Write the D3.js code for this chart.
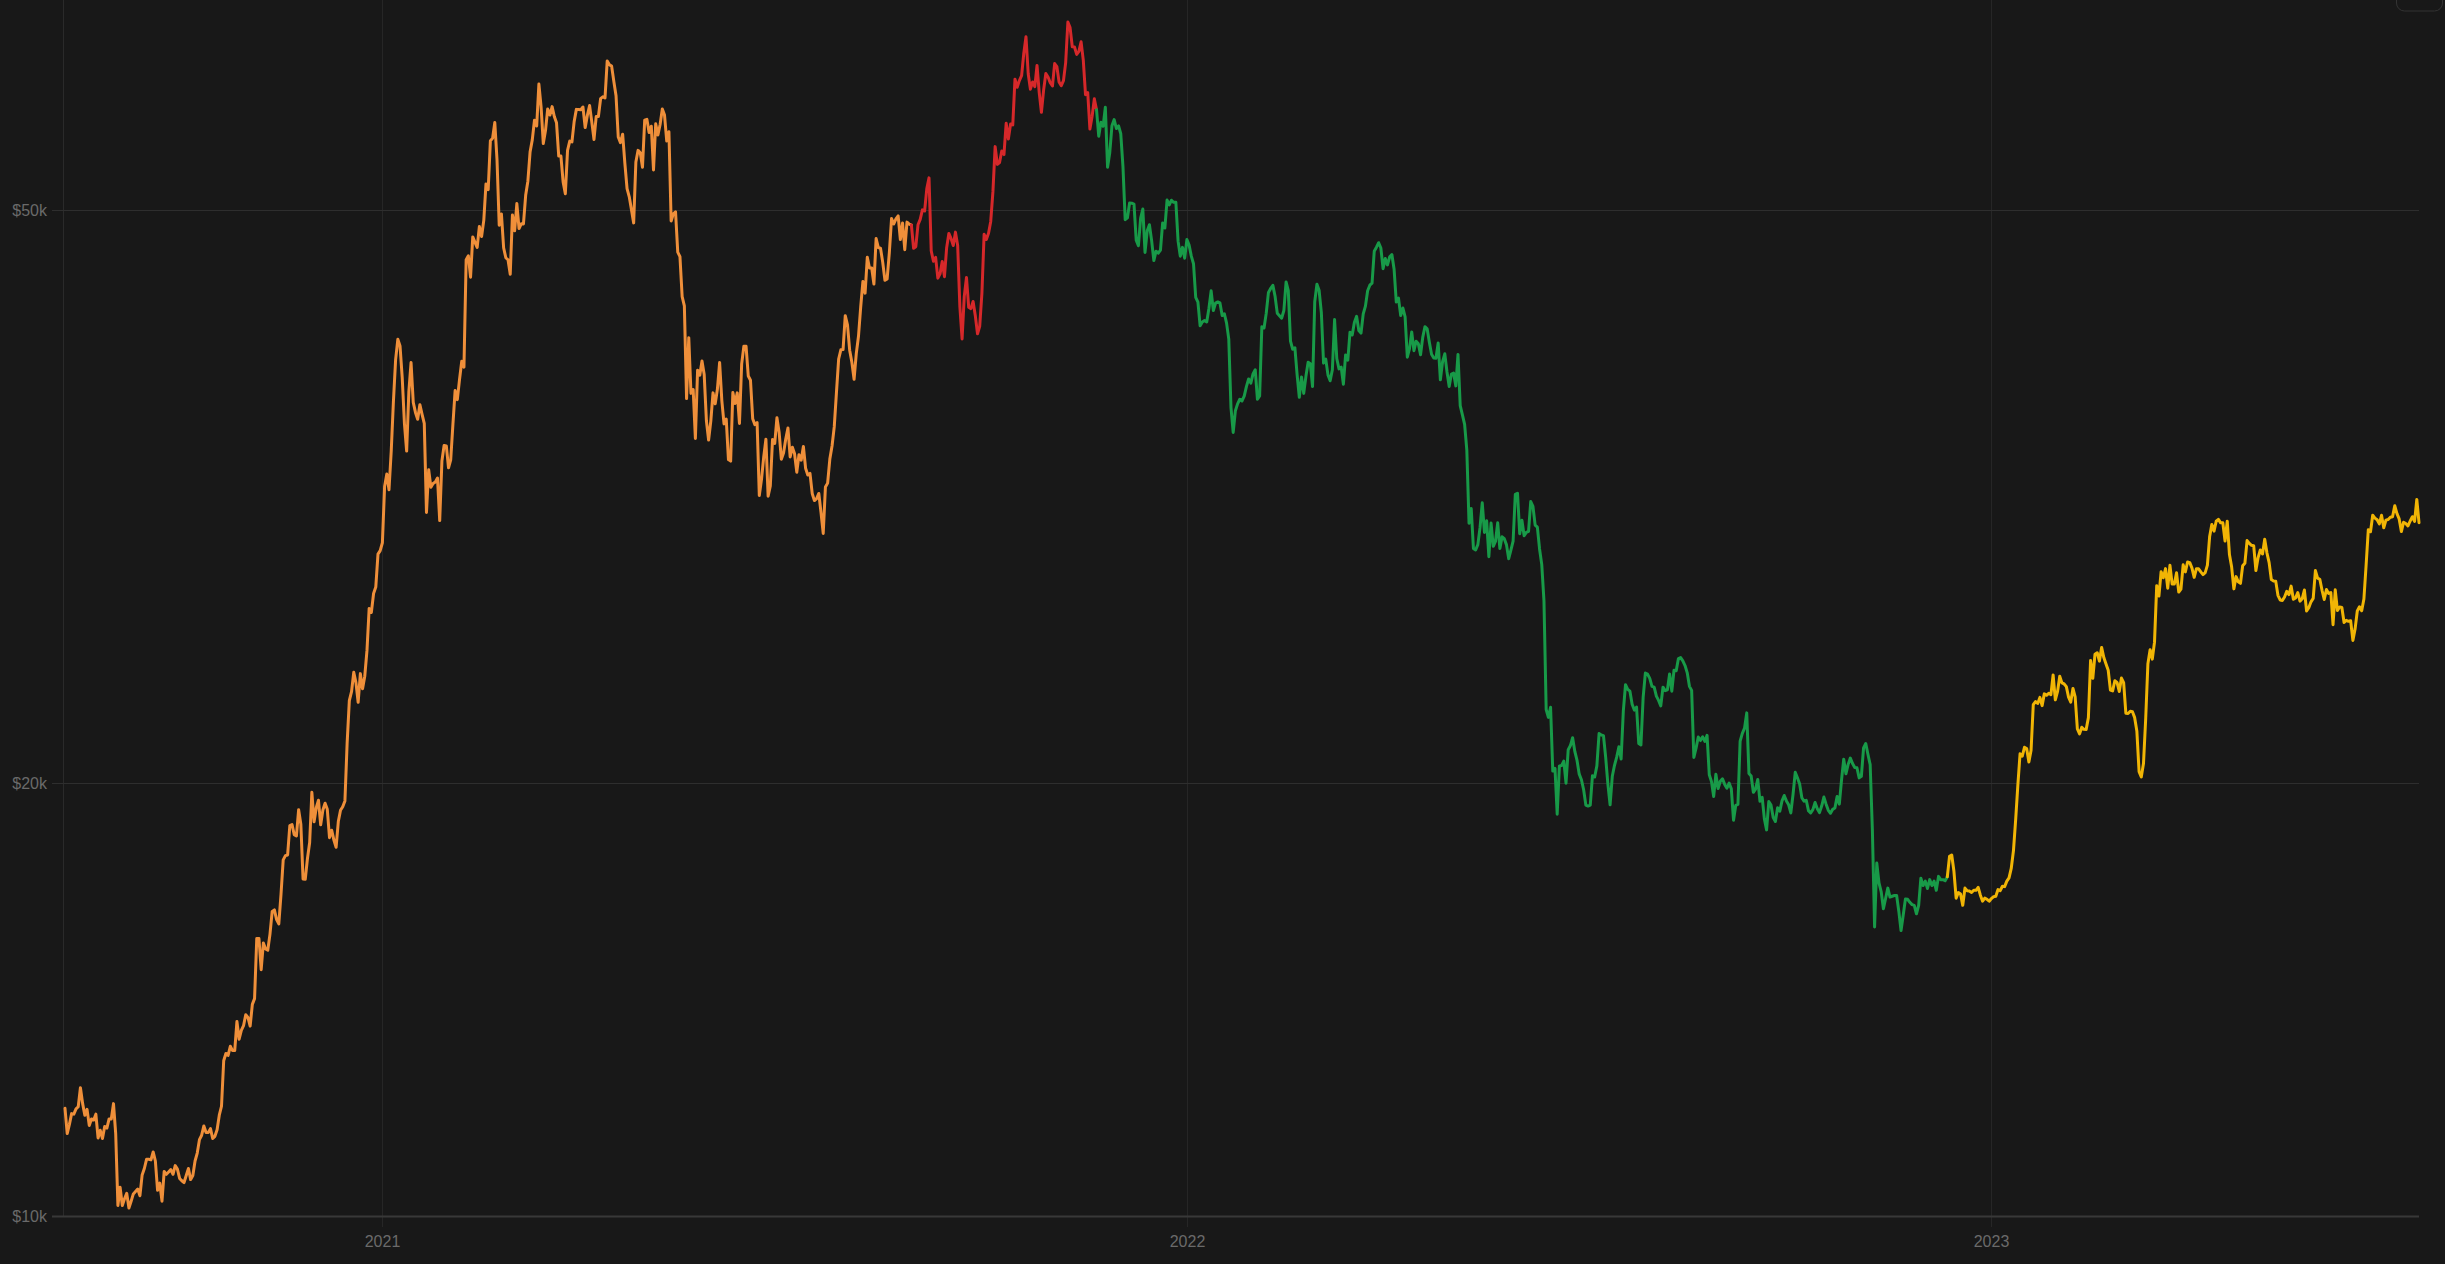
<!DOCTYPE html>
<html>
<head>
<meta charset="utf-8">
<script src="https://cdn.jsdelivr.net/npm/d3@7"></script>
<style>
html, body { margin: 0; padding: 0; background: #181818; overflow: hidden; }
svg { display: block; }
</style>
</head>
<body>
<svg id="chart" width="2445" height="1264"></svg>
<script>
// ---------------- DATA (daily close, thousands of USD) ----------------
// 2020: months Aug (from the 10th) .. Dec
const closes2020 = [
  [11.88,11.41,11.58,11.78,11.77,11.87,11.91,12.28,11.97,11.75,11.86,11.56,11.68,11.66,11.77,11.33,11.47,11.32,11.54,11.51,11.68,11.68],
  [11.97,11.41,10.17,10.47,10.17,10.28,10.37,10.13,10.24,10.36,10.40,10.44,10.33,10.68,10.79,10.95,10.95,10.94,11.08,10.92,10.42,10.54,10.24,10.74,10.69,10.73,10.77,10.69,10.84,10.78],
  [10.62,10.58,10.55,10.67,10.79,10.60,10.67,10.92,11.06,11.30,11.38,11.55,11.43,11.43,11.50,11.32,11.36,11.48,11.75,11.92,12.82,12.97,12.93,13.12,13.03,13.03,13.65,13.27,13.46,13.56,13.80],
  [13.74,13.55,14.03,14.16,15.59,15.59,14.83,15.48,15.33,15.30,15.70,16.28,16.32,16.07,15.96,16.73,17.68,17.80,17.82,18.68,18.71,18.41,18.37,19.16,18.72,17.15,17.14,17.72,18.18,19.70],
  [18.79,19.22,19.45,18.70,19.15,19.36,19.17,18.32,18.54,18.25,18.04,18.80,19.14,19.25,19.43,21.31,22.81,23.14,23.87,23.48,22.75,23.82,23.25,23.72,24.71,26.44,26.27,27.08,27.36,28.84,29.00]
];
const closes2021 = [
  [29.37,32.13,32.78,31.97,33.99,36.82,39.37,40.67,40.24,38.24,35.54,34.01,37.39,39.19,36.77,36.18,35.79,36.63,36.07,35.55,30.83,33.01,32.10,32.29,32.37,32.57,30.43,33.47,34.32,34.29,33.11],
  [33.54,35.51,37.47,36.93,38.14,39.27,38.90,46.20,46.48,44.92,47.91,47.50,47.11,48.72,47.94,49.20,52.15,51.68,55.89,56.10,57.54,54.21,48.82,49.71,47.09,46.34,46.19,45.14],
  [49.63,48.38,50.54,48.56,48.93,48.92,51.21,52.38,54.88,55.96,57.75,57.22,61.19,59.00,55.63,56.80,58.80,58.23,59.02,58.09,57.51,54.53,54.53,52.31,51.34,55.03,55.85,55.78,57.62,58.76,58.74],
  [58.72,58.98,57.07,58.21,59.12,57.60,56.00,58.09,58.09,59.77,59.96,59.84,63.50,63.11,62.97,61.45,60.06,56.22,55.72,56.47,53.91,51.76,51.09,50.05,49.00,54.02,55.03,54.82,53.56,57.75],
  [57.83,56.63,57.20,53.33,57.42,56.40,57.36,58.80,58.23,55.86,56.70,49.15,49.72,49.88,46.76,46.43,43.54,42.91,36.99,40.78,37.30,37.53,34.70,38.71,38.40,39.29,38.44,35.70,34.62,35.68,37.33],
  [36.68,37.56,39.19,36.87,35.52,35.80,33.55,33.47,37.35,36.70,37.33,35.55,39.10,40.22,40.22,38.35,38.09,35.82,35.48,35.60,31.68,32.51,33.68,34.66,31.64,32.16,34.64,34.43,35.87,35.04],
  [33.57,33.90,34.67,35.29,33.69,34.22,33.86,32.88,33.81,33.52,34.26,33.09,32.73,32.82,31.78,31.42,31.52,31.78,30.82,29.81,32.11,32.31,33.58,34.29,35.35,37.34,39.41,39.99,40.01,42.24,41.63],
  [39.97,39.20,38.15,39.75,40.87,42.82,44.61,43.79,46.37,45.59,45.59,44.43,47.79,47.10,47.05,46.00,44.70,44.80,46.72,49.34,48.91,49.32,49.55,47.71,48.99,46.94,49.06,48.90,48.83,47.05,47.17],
  [48.85,49.28,50.03,49.94,51.77,52.66,46.86,46.08,46.37,44.85,45.16,46.06,44.96,47.09,48.18,47.78,47.26,48.28,47.26,42.84,40.69,43.58,44.90,42.81,42.72,43.21,42.24,41.03,41.52,43.79],
  [48.12,47.71,48.20,49.11,51.51,55.36,53.81,53.97,54.97,54.66,57.47,56.04,57.40,57.32,61.67,60.88,61.53,62.01,64.28,66.00,62.21,60.69,61.39,60.93,63.04,60.36,58.48,60.62,62.23,61.89,61.32],
  [61.00,63.23,62.93,61.40,61.03,61.53,63.33,67.57,66.97,64.95,64.93,64.16,64.47,65.47,63.56,60.16,60.37,56.94,58.12,59.76,58.73,56.29,57.57,57.20,58.96,53.57,54.82,57.25,57.81,56.99],
  [57.23,56.51,53.60,49.25,49.39,50.59,50.57,50.50,47.67,47.24,49.36,50.10,46.74,48.38,48.86,47.63,46.13,46.83,46.68,46.91,49.00,48.60,50.82,50.43,50.81,50.64,50.64,47.59,46.46,47.12,46.31]
];
const closes2022 = [
  [47.72,47.29,46.46,45.90,43.50,43.17,41.56,41.82,41.92,41.82,42.74,43.95,42.59,43.10,43.18,43.11,42.25,42.37,41.74,40.68,36.46,35.04,36.28,36.68,36.95,36.85,37.14,37.71,38.17,37.92,38.48],
  [38.74,36.95,37.15,41.50,41.41,42.41,43.84,44.12,44.34,43.57,42.41,42.24,42.07,42.59,44.58,43.96,40.55,40.03,40.12,38.43,37.07,38.29,37.30,38.33,39.21,39.11,37.71,43.19],
  [44.42,43.97,42.45,39.15,39.40,38.42,38.06,38.74,41.98,39.44,38.79,38.90,37.85,39.67,39.34,41.14,40.95,41.80,42.19,41.25,41.08,42.36,42.89,43.96,44.35,44.50,46.82,47.13,47.47,47.07,45.54],
  [46.28,45.81,46.41,46.58,45.50,43.17,43.44,42.25,42.76,42.16,39.52,40.07,41.15,39.94,40.55,40.38,39.68,40.80,41.50,41.36,40.48,39.71,39.47,39.46,40.43,38.12,39.24,39.74,38.60,37.71],
  [38.47,38.53,37.75,39.70,36.58,36.04,35.50,34.06,30.30,31.02,29.10,29.03,29.28,30.10,31.31,29.86,30.42,28.72,30.31,29.20,29.43,30.32,29.10,29.65,29.56,29.27,28.63,29.02,29.45,31.73,31.79],
  [29.80,30.45,29.70,29.86,29.91,31.37,31.13,30.21,30.11,29.08,28.36,26.76,22.49,22.21,22.57,20.38,20.47,19.02,20.55,20.56,20.71,19.99,21.09,21.23,21.50,21.03,20.73,20.28,20.10,19.78],
  [19.30,19.27,19.30,20.23,20.19,20.55,21.64,21.59,21.57,20.83,19.96,19.31,20.21,20.57,20.84,21.19,20.78,22.43,23.40,23.23,23.16,22.68,22.47,22.58,21.30,21.25,22.93,23.84,23.80,23.64,23.34],
  [23.31,22.98,22.82,22.62,23.31,23.18,23.21,23.81,23.16,23.95,23.93,24.40,24.44,24.31,24.13,23.85,23.34,23.19,20.83,21.14,21.52,21.40,21.53,21.37,21.58,20.26,20.04,19.57,20.28,19.82,20.05],
  [20.13,19.95,19.83,19.99,19.81,18.84,19.29,19.32,21.38,21.65,21.83,22.37,20.30,20.22,19.70,19.80,20.11,19.42,19.54,18.88,18.55,19.41,19.30,18.92,18.80,19.22,19.11,19.43,19.60,19.43],
  [19.31,19.06,19.63,20.34,20.16,19.96,19.53,19.42,19.45,19.13,19.06,19.16,19.38,19.19,19.07,19.27,19.55,19.33,19.14,19.05,19.17,19.21,19.57,19.33,20.09,20.77,20.29,20.60,20.81,20.63,20.50],
  [20.49,20.16,20.21,21.15,21.30,20.93,20.59,18.54,15.88,17.59,17.04,16.80,16.35,16.62,16.90,16.66,16.68,16.70,16.70,16.28,15.79,16.19,16.61,16.60,16.52,16.46,16.44,16.22,16.44,17.17],
  [16.97,17.09,16.89,17.13,16.97,17.09,16.84,17.22,17.13,17.13,17.10,17.21,17.78,17.82,17.36,16.63,16.78,16.74,16.44,16.90,16.83,16.82,16.78,16.84,16.84,16.92,16.71,16.55,16.63,16.60,16.55]
];
// 2023: Jan .. Jul (to the 14th)
const closes2023 = [
  [16.62,16.67,16.68,16.86,16.83,16.95,16.94,17.09,17.18,17.44,17.94,18.85,19.93,20.95,20.87,21.17,21.13,20.68,21.07,22.67,22.78,22.71,22.93,22.63,23.06,23.01,23.08,23.03,23.77,22.84,23.14],
  [23.72,23.47,23.43,23.33,22.94,22.76,23.26,22.95,21.80,21.63,21.86,21.79,21.78,22.20,24.33,23.64,24.57,24.63,24.30,24.84,24.44,24.19,23.95,23.20,23.17,23.55,23.49,23.15],
  [23.65,23.48,22.36,22.35,22.43,22.41,22.20,21.72,20.36,20.19,20.63,22.16,24.20,24.75,24.38,25.05,27.42,26.97,28.04,27.77,28.18,27.31,28.33,27.49,27.49,27.99,27.14,27.27,28.35,28.03,28.48],
  [28.45,28.20,27.79,28.17,28.17,28.03,27.91,28.00,28.34,29.65,30.24,29.92,30.40,30.49,30.32,30.32,29.45,30.40,28.82,28.25,27.28,27.82,27.59,27.52,28.31,28.42,29.47,29.34,29.25,29.23],
  [28.09,28.68,29.03,28.85,29.53,28.90,28.45,27.69,27.63,27.62,27.00,26.80,26.78,26.93,27.17,27.03,27.40,26.83,26.89,27.12,26.75,26.85,27.23,26.33,26.47,26.72,26.87,28.09,27.75,27.70,27.22],
  [26.82,27.25,27.08,27.12,25.76,27.24,26.35,26.50,26.48,25.85,25.94,25.90,25.92,25.12,25.58,26.33,26.51,26.34,26.84,28.33,29.99,29.89,30.69,30.55,30.47,30.27,30.69,30.08,30.45,30.48],
  [30.59,30.62,31.16,30.77,30.51,29.90,30.35,30.29,30.17,30.41,30.62,30.39,31.48,30.33]
];
const yearStarts = [
  { year: 2020, firstMonth: 8, firstDay: 10, months: closes2020 },
  { year: 2021, firstMonth: 1, firstDay: 1, months: closes2021 },
  { year: 2022, firstMonth: 1, firstDay: 1, months: closes2022 },
  { year: 2023, firstMonth: 1, firstDay: 1, months: closes2023 }
];
// market phases (start dates)
const phaseStarts = ["2020-08-10", "2021-08-29", "2021-11-21", "2022-12-12"];
const yTickValues = [10000, 20000, 50000];
const yTickLabels = ["$10k", "$20k", "$50k"];
const xTickYears = [2021, 2022, 2023];

// ---------------- STYLE ----------------
const phaseColors = ["#ef8f3a", "#d6282a", "#189a48", "#f1b505"];
const W = 2445, H = 1264;
const plot = { left: 65, right: 2419, top: 0, bottom: 1216, axisX: 63, gridStart: 52 };
const textColor = "#6a6a6a";
const fontFamily = "'Liberation Sans', Arial, Helvetica, sans-serif";

// ---------------- BUILD ----------------
const points = [];
yearStarts.forEach(b => {
  b.months.forEach((vals, mi) => {
    vals.forEach((v, di) => {
      points.push({
        date: new Date(b.year, b.firstMonth - 1 + mi, (mi === 0 ? b.firstDay : 1) + di),
        value: v * 1000
      });
    });
  });
});

const parse = d3.timeParse("%Y-%m-%d");
const x = d3.scaleTime()
  .domain(d3.extent(points, d => d.date))
  .range([plot.left, plot.right]);
const y = d3.scaleLog()
  .domain([10000, 70000])
  .range([plot.bottom, plot.top]);

const svg = d3.select("#chart");
svg.append("rect").attr("width", W).attr("height", H).attr("fill", "#181818");

// vertical year grid lines + ticks
const gx = svg.append("g");
xTickYears.forEach(yr => {
  const xx = Math.round(x(new Date(yr, 0, 1))) + 0.5;
  gx.append("line")
    .attr("x1", xx).attr("x2", xx)
    .attr("y1", 0).attr("y2", plot.bottom + 11)
    .attr("stroke", "#262626").attr("stroke-width", 1);
  gx.append("text")
    .attr("x", xx).attr("y", 1247)
    .attr("text-anchor", "middle")
    .attr("fill", textColor)
    .attr("font-family", fontFamily)
    .attr("font-size", 16)
    .text(String(yr));
});

// left axis line
svg.append("line")
  .attr("x1", plot.axisX + 0.5).attr("x2", plot.axisX + 0.5)
  .attr("y1", 0).attr("y2", plot.bottom)
  .attr("stroke", "#2a2a2a").attr("stroke-width", 1);

// horizontal grid lines + labels
const gy = svg.append("g");
yTickValues.forEach((v, i) => {
  const yy = Math.round(y(v)) + 0.5;
  const isBase = i === 0;
  gy.append("line")
    .attr("x1", plot.gridStart).attr("x2", plot.right)
    .attr("y1", yy).attr("y2", yy)
    .attr("stroke", isBase ? "#383838" : "#2e2e2e")
    .attr("stroke-width", isBase ? 2 : 1);
  gy.append("text")
    .attr("x", 47).attr("y", yy)
    .attr("dy", "0.35em")
    .attr("text-anchor", "end")
    .attr("fill", textColor)
    .attr("font-family", fontFamily)
    .attr("font-size", 16)
    .text(yTickLabels[i]);
});

// price line, coloured by phase
const line = d3.line()
  .x(d => x(d.date))
  .y(d => y(d.value));
const phaseDates = phaseStarts.map(parse);
phaseDates.forEach((start, i) => {
  const end = phaseDates[i + 1] || new Date(9999, 0, 1);
  const seg = points.filter(p => p.date >= start && p.date <= end);
  svg.append("path")
    .datum(seg)
    .attr("d", line)
    .attr("fill", "none")
    .attr("stroke", phaseColors[i])
    .attr("stroke-width", 3)
    .attr("stroke-linejoin", "round")
    .attr("stroke-linecap", "round");
});

// top-right control outline (partially off canvas)
svg.append("rect")
  .attr("x", 2396.5).attr("y", -30).attr("width", 46).attr("height", 41)
  .attr("rx", 8).attr("fill", "none")
  .attr("stroke", "#333").attr("stroke-width", 1);
</script>
</body>
</html>
